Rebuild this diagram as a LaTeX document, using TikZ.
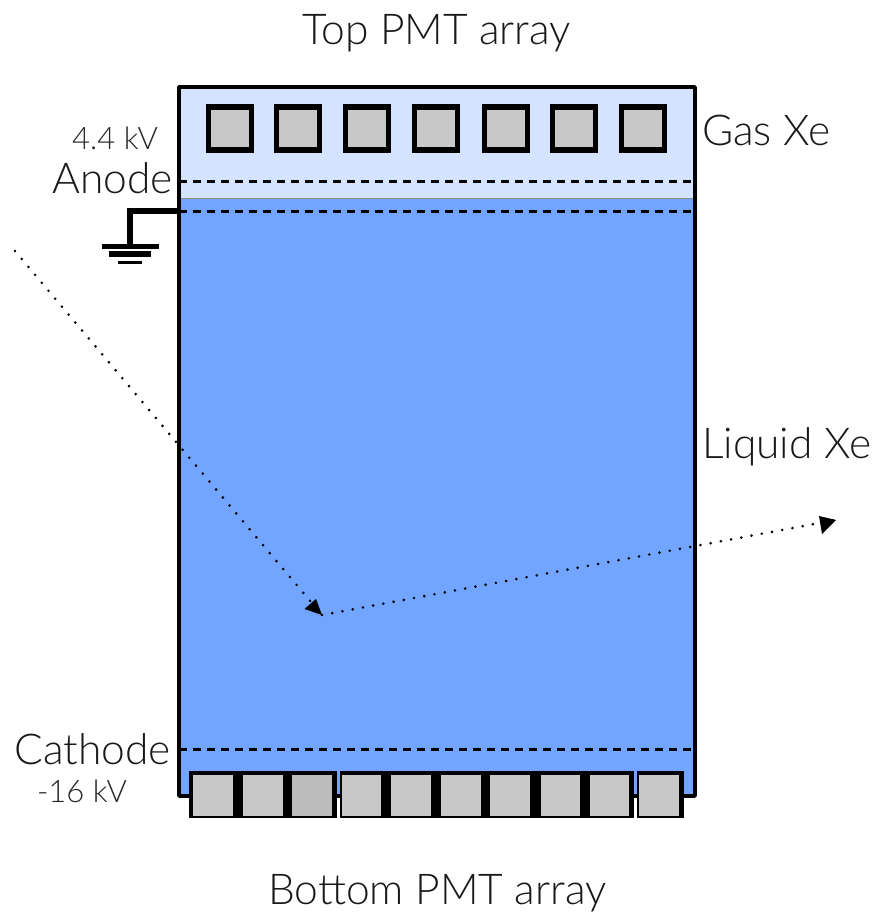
\documentclass[tikz,border=0pt]{standalone}
\usepackage{fontspec}
\setmainfont{Lato Light}
\usetikzlibrary{arrows.meta}
\definecolor{gasxe}{RGB}{212,227,255}
\definecolor{liqxe}{RGB}{113,165,255}
\definecolor{pmtgray}{RGB}{200,200,200}
\definecolor{pmtdark}{RGB}{188,188,188}
\tikzset{
  x=1pt,y=-1pt,
  toppmt/.style={draw=black,line width=5.5pt,fill=pmtgray,minimum size=43pt,inner sep=0pt,outer sep=0pt,anchor=north west},
  botcell/.style={fill=pmtgray,inner sep=0pt,outer sep=0pt,anchor=north west,minimum height=41pt},
  grid/.style={line width=3pt,dash pattern=on 8pt off 6pt},
  track/.style={line width=2.9pt,line cap=round,dash pattern=on 0pt off 10.4pt},
  head/.style={fill=black,draw=none},
  bigtext/.style={font=\fontsize{42.5}{42.5}\selectfont,inner sep=0pt,text=black!90},
  smalltext/.style={font=\fontsize{31}{31}\selectfont,inner sep=0pt,text=black!85},
}
\begin{document}
\begin{tikzpicture}
\useasboundingbox (0,0) rectangle (876,913);
% vessel
\fill[gasxe] (179,87) rectangle (695,198);
\fill[liqxe] (179,198) rectangle (695,796);
\draw[line width=1pt,black!45] (179,198) -- (695,198);
\draw[line width=3.5pt,line join=round] (179,796) -- (179,87) -- (695,87) -- (695,796) -- cycle;
% top PMTs
\foreach \n/\x in {1/208.5,2/276.5,3/345.5,4/414.5,5/484.5,6/552.5,7/621.5}
  \node[toppmt] (top\n) at (\x,107) {};
% grids
\coordinate (anL) at (179,181); \coordinate (anR) at (695,181);
\coordinate (gaL) at (179,211); \coordinate (gaR) at (695,211);
\coordinate (caL) at (179,749); \coordinate (caR) at (695,749);
\draw[grid] (anL) -- (anR);
\draw[grid] (gaL) -- (gaR);
\draw[grid] (caL) -- (caR);
% bottom PMT frames
\fill[black] (189,771) rectangle (336.5,818);
\fill[black] (339.5,771) rectangle (633.5,818);
\fill[black] (636.5,771) rectangle (684,818);
\fill[white] (336.5,797.5) rectangle (339.5,819);
\fill[white] (633.5,797.5) rectangle (636.5,819);
\foreach \n/\x/\w in {1/193/40,2/243/40,4/342/39,5/391/40,6/441/40,7/490/40,8/541/39,9/590/39,10/639/40}
  \node[botcell,minimum width=\w pt] (bot\n) at (\x,774.5) {};
\node[botcell,minimum width=40pt,fill=pmtdark] (bot3) at (292,774.5) {};
% ground
\coordinate (gndA) at (179,211);
\coordinate (gndB) at (130,211);
\coordinate (gndC) at (130,246);
\draw[line width=5.5pt,line join=miter] (gndA) -- (gndB) -- (gndC);
\draw[line width=5pt] (101.5,246) -- (158.5,246);
\draw[line width=6pt] (109,254) -- (151,254);
\draw[line width=3pt] (118,262) -- (142,262);
% tracks
\coordinate (start) at (15,251);
\coordinate (hit) at (322,615);
\coordinate (exit) at (836,520);
\draw[track] (start) -- (hit);
\draw[track] (hit) -- (exit);
\fill[head] (322,615) -- (304.5,609) -- (316,599) -- cycle;
\fill[head] (836,520) -- (819,516) -- (822,534) -- cycle;
% labels
\node[bigtext] (toplab) at (436.5,33) {Top PMT array};
\node[bigtext] (botlab) at (437.5,893) {Bottom PMT array};
\node[bigtext,anchor=west] (gas) at (702,130.5) {Gas Xe};
\node[bigtext,anchor=west] (liq) at (702,447) {Liquid Xe};
\node[bigtext,anchor=east] (anode) at (173,178.5) {Anode};
\node[bigtext,anchor=east] (cathode) at (171,749) {Cathode};
\node[smalltext] (hv) at (115,138) {4.4 kV};
\node[smalltext] (cv) at (82,791) {-16 kV};
\end{tikzpicture}
\end{document}
